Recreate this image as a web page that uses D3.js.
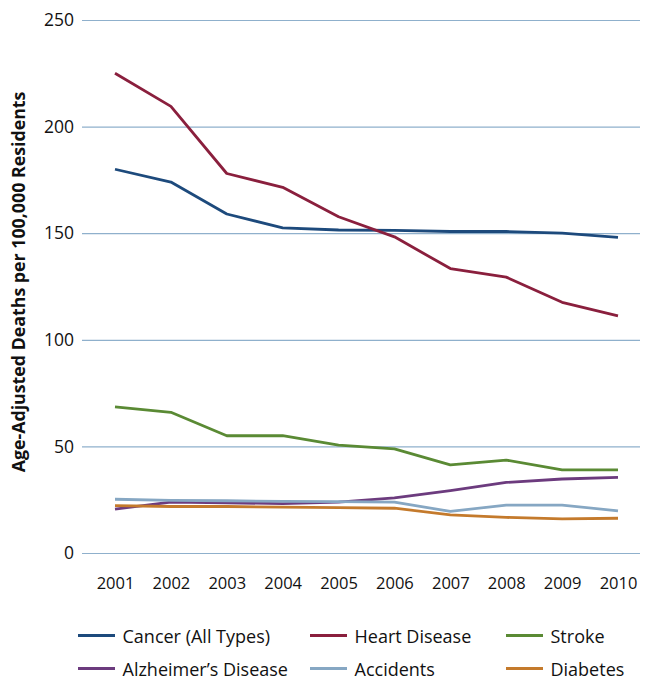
<!DOCTYPE html>
<html><head><meta charset="utf-8">
<script src="https://cdn.jsdelivr.net/npm/d3@7"></script>
<style>body{margin:0;background:#fff;} svg{display:block;font-family:"Open Sans","Noto Sans",sans-serif;}</style>
</head><body>
<svg id="chart" width="648" height="680"></svg>
<script>
const years = ["2001","2002","2003","2004","2005","2006","2007","2008","2009","2010"];
const cancer = [180, 174, 159, 152.5, 151.5, 151.3, 150.8, 150.8, 150, 148];
const heart = [225, 209.5, 178, 171.5, 157.7, 148.3, 133.4, 129.4, 117.6, 111.2];
const stroke = [68.5, 66, 55, 55, 50.6, 48.8, 41.3, 43.6, 39, 39];
const alzheimers = [20.6, 23.9, 23.5, 23.2, 23.9, 25.9, 29.3, 33.1, 34.7, 35.5];
const accidents = [25.2, 24.7, 24.5, 24.2, 24.1, 23.9, 19.5, 22.5, 22.5, 19.8];
const diabetes = [22.2, 21.8, 21.8, 21.5, 21.3, 21, 17.9, 16.7, 16, 16.3];
const yTicks = [0, 50, 100, 150, 200, 250];
const seriesNames = ["Cancer (All Types)", "Heart Disease", "Stroke", "Alzheimer\u2019s Disease", "Accidents", "Diabetes"];
const seriesColors = ["#1d4a7c", "#8a1f3d", "#5a8a34", "#6c3b7e", "#86a7c3", "#c47a2c"];
const seriesValues = [cancer, heart, stroke, alzheimers, accidents, diabetes];

(function(){
const svg = d3.select("#chart");
const mLeft = 82, mRight = 640, mTop = 20, mBottom = 553;
const x = d3.scalePoint().domain(years).range([115, 618]);
const y = d3.scaleLinear().domain([0, 250]).range([mBottom, mTop]);
const ff = "'Open Sans','Noto Sans',sans-serif";

const yAxis = d3.axisLeft(y).tickValues(yTicks).tickSize(-(mRight - mLeft)).tickPadding(8);
const gy = svg.append("g").attr("transform", `translate(${mLeft},0)`).call(yAxis);
gy.select(".domain").remove();
gy.selectAll(".tick line").attr("stroke", "#8fb0cc").attr("stroke-width", 1.2);
gy.selectAll(".tick text").attr("font-size", 17.5).attr("fill", "#111").attr("font-family", ff);

const xAxis = d3.axisBottom(x).tickSize(0).tickPadding(0);
const gx = svg.append("g").attr("transform", `translate(0,589)`).call(xAxis);
gx.select(".domain").remove();
gx.selectAll(".tick text").attr("font-size", 16.5).attr("fill", "#111").attr("dy", 0).attr("font-family", ff);

const title = svg.append("text")
  .attr("transform", `translate(25,282) rotate(-90)`)
  .attr("text-anchor", "middle")
  .attr("font-size", 17).attr("font-weight", "bold").attr("fill", "#111").attr("font-family", ff)
  .text("Age-Adjusted Deaths per 100,000 Residents");
const tl = title.node().getComputedTextLength();
if (tl > 0) title.attr("font-size", 17 * 381 / tl);

const line = d3.line().x((d, i) => x(years[i])).y(d => y(d));
seriesValues.forEach((vals, k) => {
  svg.append("path").datum(vals)
    .attr("fill", "none").attr("stroke", seriesColors[k]).attr("stroke-width", 2.8)
    .attr("stroke-linejoin", "round")
    .attr("d", line);
});

const colX = [78, 310, 506];
const rowBase = [643, 676];
seriesNames.forEach((name, k) => {
  const cx = colX[k % 3], by = rowBase[Math.floor(k / 3)];
  const g = svg.append("g").attr("transform", `translate(${cx},${by})`);
  g.append("line").attr("x1", 0).attr("x2", 37).attr("y1", -7.5).attr("y2", -7.5)
    .attr("stroke", seriesColors[k]).attr("stroke-width", 2.8);
  g.append("text").attr("x", 44.5).attr("y", 0)
    .attr("font-size", 18).attr("fill", "#111").attr("font-family", ff).text(name);
});
})();
</script>
</body></html>
